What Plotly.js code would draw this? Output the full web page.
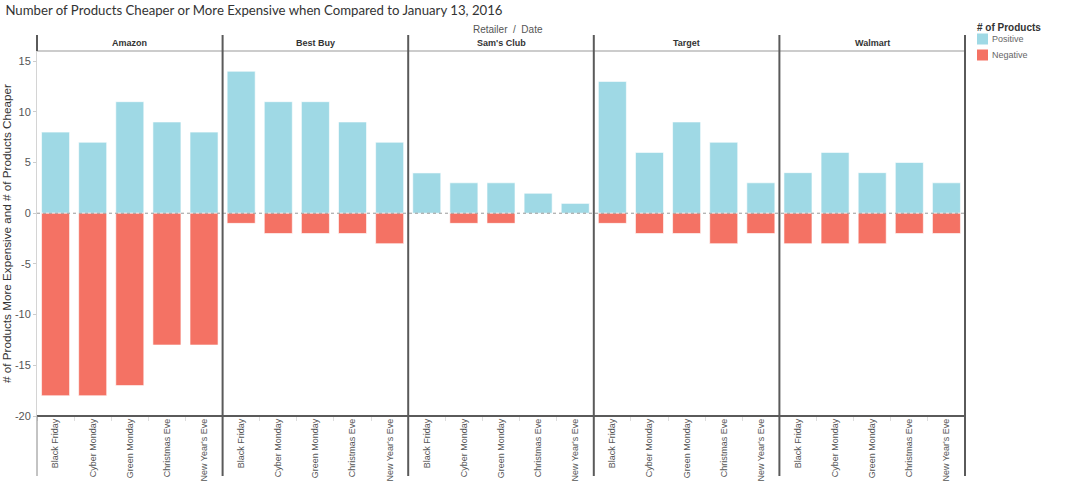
<!DOCTYPE html>
<html>
<head>
<meta charset="utf-8">
<script src="https://cdn.plot.ly/plotly-3.0.1.min.js"></script>
<style>html,body{margin:0;padding:0;background:#fff;}#chart{width:1080px;height:499px;}</style>
</head>
<body>
<div id="chart"></div>
<script>
const retailers = ["Amazon", "Best Buy", "Sam's Club", "Target", "Walmart"];
const dates = ["Black Friday", "Cyber Monday", "Green Monday", "Christmas Eve", "New Year's Eve"];
const positiveAmazon = [8, 7, 11, 9, 8];
const negativeAmazon = [-18, -18, -17, -13, -13];
const positiveBestBuy = [14, 11, 11, 9, 7];
const negativeBestBuy = [-1, -2, -2, -2, -3];
const positiveSamsClub = [4, 3, 3, 2, 1];
const negativeSamsClub = [0, -1, -1, 0, 0];
const positiveTarget = [13, 6, 9, 7, 3];
const negativeTarget = [-1, -2, -2, -3, -2];
const positiveWalmart = [4, 6, 4, 5, 3];
const negativeWalmart = [-3, -3, -3, -2, -2];
const yTicks = [-20, -15, -10, -5, 0, 5, 10, 15];
const seriesNames = ["Positive", "Negative"];

const positives = [positiveAmazon, positiveBestBuy, positiveSamsClub, positiveTarget, positiveWalmart];
const negatives = [negativeAmazon, negativeBestBuy, negativeSamsClub, negativeTarget, negativeWalmart];

const POS = "#9fd9e5", NEG = "#f47264";
const FONT = "Liberation Sans, Arial, sans-serif";
const W = 1080, H = 499, L = 37, R = 115, T = 51, B = 83;
const plotH = H - T - B;
const py = p => (H - B - p) / plotH;   // pixel y -> paper y
const px = p => (p - L) / (W - L - R); // pixel x -> paper x
const n = retailers.length;

const traces = [];
retailers.forEach((r, i) => {
  const ax = i === 0 ? "x" : "x" + (i + 1);
  traces.push({type: "bar", x: dates, y: positives[i], xaxis: ax, yaxis: "y", name: seriesNames[0],
    marker: {color: POS, line: {color: "rgba(255,255,255,0.6)", width: 1}}, showlegend: false, hoverinfo: "x+y"});
  traces.push({type: "bar", x: dates, y: negatives[i], xaxis: ax, yaxis: "y", name: seriesNames[1],
    marker: {color: NEG, line: {color: "rgba(255,255,255,0.6)", width: 1}}, showlegend: false, hoverinfo: "x+y"});
});

const layout = {
  width: W, height: H,
  margin: {l: L, r: R, t: T, b: B},
  paper_bgcolor: "#fff", plot_bgcolor: "#fff",
  barmode: "relative", bargap: 0.245,
  font: {family: FONT, size: 10, color: "#555"},
  title: {text: "Number of Products Cheaper or More Expensive when Compared to January 13, 2016",
    x: 0.005, xref: "container", xanchor: "left", y: 1 - 10 / H, yref: "container", yanchor: "middle",
    font: {family: "Lato, sans-serif", size: 13.2, color: "#333"}},
  yaxis: {range: [-20, 16], tickvals: yTicks, ticktext: yTicks.map(String), showgrid: false, zeroline: false,
    showline: true, linecolor: "#d4d4d4", linewidth: 1, ticks: "outside", ticklen: 3, tickcolor: "#ccc",
    tickfont: {size: 11, color: "#555"}, anchor: "x",
    title: {text: "# of Products More Expensive and # of Products Cheaper", standoff: 5,
      font: {size: 11.7, color: "#333"}}},
  showlegend: false,
  shapes: [], annotations: []
};

retailers.forEach((r, i) => {
  const key = i === 0 ? "xaxis" : "xaxis" + (i + 1);
  layout[key] = {domain: [i / n, (i + 1) / n], anchor: "y", type: "category", range: [-0.5, 4.5],
    showgrid: false, zeroline: false, showline: false, ticks: "outside", tickson: "boundaries",
    ticklen: 4, tickcolor: "#ddd", tickangle: -90, tickfont: {size: 9, color: "#555"}, fixedrange: true};
  layout.annotations.push({text: "<b>" + r + "</b>", xref: "paper", yref: "paper",
    x: (i + 0.5) / n, y: py(43), xanchor: "center", yanchor: "middle", showarrow: false,
    font: {size: 9, color: "#333"}});
});

const dark = "#5a5a5a";
// header line
layout.shapes.push({type: "line", xref: "paper", yref: "paper", x0: 0, x1: 1, y0: 1, y1: 1, line: {color: "#999", width: 1}});
// zero dotted line
layout.shapes.push({type: "line", xref: "paper", yref: "y", x0: 0, x1: 1, y0: 0, y1: 0, line: {color: "#999", width: 1, dash: "dot"}});
// bottom line
layout.shapes.push({type: "line", xref: "paper", yref: "paper", x0: 0, x1: 1, y0: 0, y1: 0, line: {color: dark, width: 2}});
// dividers and right edge
for (let i = 1; i <= n; i++) {
  layout.shapes.push({type: "line", xref: "paper", yref: "paper", x0: i / n, x1: i / n, y0: py(476), y1: py(35), line: {color: dark, width: 2}});
}
// left edge: dark in header band, grey in label band
layout.shapes.push({type: "line", xref: "paper", yref: "paper", x0: 0, x1: 0, y0: 1, y1: py(35), line: {color: dark, width: 2}});
layout.shapes.push({type: "line", xref: "paper", yref: "paper", x0: 0, x1: 0, y0: py(476), y1: 0, line: {color: "#888", width: 1}});

// Retailer / Date header
layout.annotations.push({text: "Retailer  /  Date", xref: "paper", yref: "paper", x: px(508), y: py(29),
  xanchor: "center", yanchor: "middle", showarrow: false, font: {size: 10, color: "#555"}});

// legend
layout.annotations.push({text: "<b># of Products</b>", xref: "paper", yref: "paper", x: px(975), y: py(27),
  xanchor: "left", yanchor: "middle", showarrow: false, font: {size: 10, color: "#333"}});
[[POS, seriesNames[0], 39], [NEG, seriesNames[1], 55]].forEach(([c, t, yc]) => {
  layout.shapes.push({type: "rect", xref: "paper", yref: "paper", x0: px(977), x1: px(988), y0: py(yc + 5.5), y1: py(yc - 5.5),
    fillcolor: c, line: {width: 0}});
  layout.annotations.push({text: t, xref: "paper", yref: "paper", x: px(990), y: py(yc), xanchor: "left", yanchor: "middle",
    showarrow: false, font: {size: 9, color: "#666"}});
});

Plotly.newPlot("chart", traces, layout, {displayModeBar: false, staticPlot: true});
</script>
</body>
</html>
